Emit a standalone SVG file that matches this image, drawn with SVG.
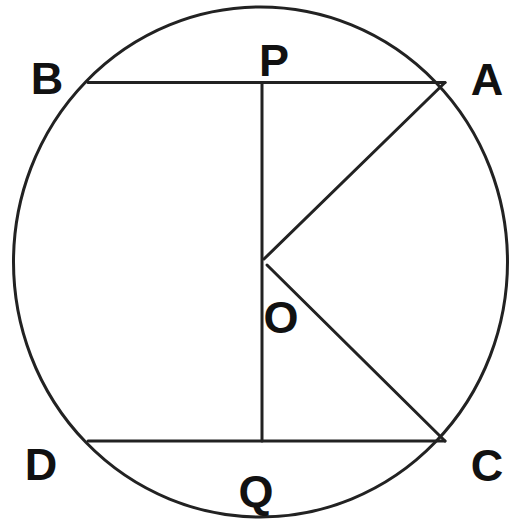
<svg xmlns="http://www.w3.org/2000/svg" width="517" height="526" viewBox="0 0 517 526">
<style>
.ln{stroke:#222;stroke-width:3;fill:none;stroke-linecap:round}
.lb{font-family:"Liberation Sans",Arial,sans-serif;font-weight:bold;font-size:45px;fill:#111;text-anchor:middle}
</style>
<rect width="517" height="526" fill="#fff"/>
<g id="circle"><ellipse class="ln" cx="260.5" cy="262" rx="247" ry="255"/></g>
<g id="connectors">
<line class="ln" x1="88" y1="82.5" x2="445" y2="82.5"/>
<line class="ln" x1="88" y1="441" x2="445" y2="441"/>
<line class="ln" x1="262" y1="82.5" x2="262" y2="441"/>
<line class="ln" x1="445" y1="82.5" x2="264" y2="259"/>
<line class="ln" x1="267" y1="265" x2="445" y2="441"/>
</g>
<g id="B"><text class="lb" x="47" y="94">B</text></g>
<g id="P"><text class="lb" x="274" y="76">P</text></g>
<g id="A"><text class="lb" x="487" y="95">A</text></g>
<g id="O"><text class="lb" x="281" y="333">O</text></g>
<g id="D"><text class="lb" x="41" y="480">D</text></g>
<g id="Q"><text class="lb" x="256" y="507">Q</text></g>
<g id="C"><text class="lb" x="487" y="481">C</text></g>
</svg>
